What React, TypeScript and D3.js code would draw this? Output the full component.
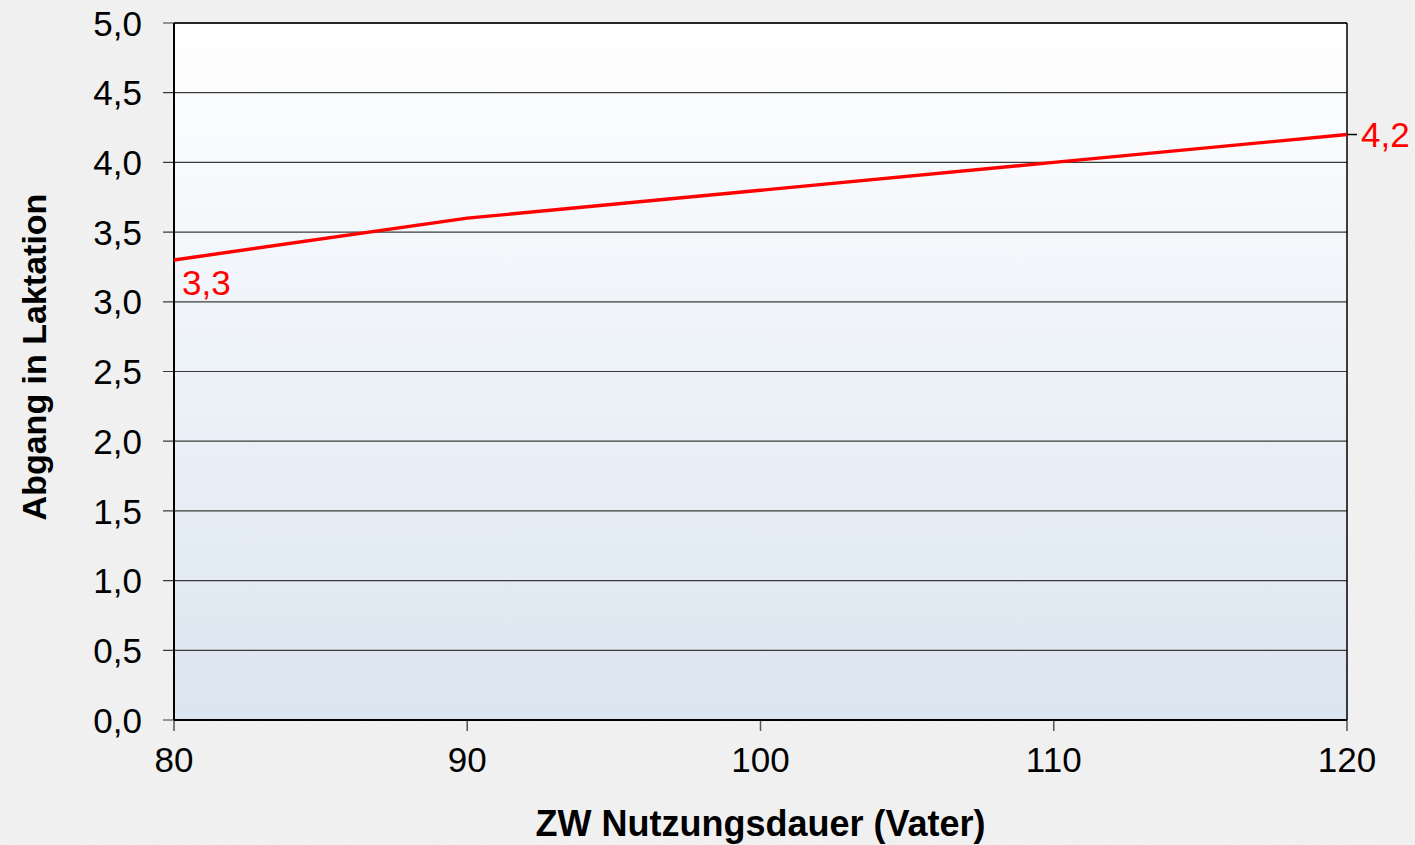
import React from 'react';
import * as d3 from 'd3';

const xValues = [80, 90, 100, 110, 120];
const abgang = [3.3, 3.6, 3.8, 4.0, 4.2];
const xTicks = [80, 90, 100, 110, 120];
const yTicks = [0, 0.5, 1, 1.5, 2, 2.5, 3, 3.5, 4, 4.5, 5];
const startLabel = '3,3';
const endLabel = '4,2';
const xTitle = 'ZW Nutzungsdauer (Vater)';
const yTitle = 'Abgang in Laktation';

const W = 1415;
const H = 845;
const m = { left: 174, right: 68, top: 23, bottom: 125 };
const font = '"Liberation Sans", Arial, sans-serif';
const fmt = (v: number) => v.toFixed(1).replace('.', ',');

export default function App() {
  const x = d3.scaleLinear().domain([80, 120]).range([m.left, W - m.right]);
  const y = d3.scaleLinear().domain([0, 5]).range([H - m.bottom, m.top]);

  const line = d3.line<number>()
    .x((_, i) => x(xValues[i]))
    .y((d) => y(d));

  const x0 = x(80), x1 = x(120), y0 = y(0), y1 = y(5);
  const last = abgang.length - 1;

  return (
    <svg width={W} height={H} style={{ position: 'fixed', top: 0, left: 0, display: 'block' }}>
      <defs>
        <linearGradient id="plotBg" x1="0" y1="0" x2="0" y2="1">
          <stop offset="0%" stopColor="#ffffff" />
          <stop offset="100%" stopColor="#dbe5f0" />
        </linearGradient>
        <filter id="grain" x="0" y="0" width="100%" height="100%">
          <feTurbulence type="fractalNoise" baseFrequency="0.9" numOctaves="2" seed="3" />
          <feColorMatrix type="matrix" values="0 0 0 0 0.6  0 0 0 0 0.6  0 0 0 0 0.6  0 0 0 0.14 0" />
        </filter>
      </defs>

      <rect x={0} y={0} width={W} height={H} fill="#f3f3f3" />
      <rect x={0} y={0} width={W} height={H} filter="url(#grain)" />

      <rect x={x0} y={y1} width={x1 - x0} height={y0 - y1} fill="url(#plotBg)" />

      {yTicks.map((t) => (
        <g key={t}>
          <line x1={x0 - 11} x2={x1} y1={y(t)} y2={y(t)} stroke="#3a3a3a" strokeWidth={1.2} />
          <text x={142} y={y(t)} dy="0.36em" textAnchor="end" fontFamily={font} fontSize={35} fill="#000">
            {fmt(t)}
          </text>
        </g>
      ))}

      {xTicks.map((t) => (
        <g key={t}>
          <line x1={x(t)} x2={x(t)} y1={y0} y2={y0 + 11} stroke="#555" strokeWidth={1.5} />
          <text x={x(t)} y={772} textAnchor="middle" fontFamily={font} fontSize={35} fill="#000">
            {t}
          </text>
        </g>
      ))}

      <line x1={x0} x2={x1} y1={y1} y2={y1} stroke="#000" strokeWidth={1.5} />
      <line x1={x1} x2={x1} y1={y1} y2={y0} stroke="#000" strokeWidth={1.5} />
      <line x1={x0} x2={x0} y1={y1} y2={y0} stroke="#000" strokeWidth={2} />
      <line x1={x0} x2={x1} y1={y0} y2={y0} stroke="#000" strokeWidth={2} />

      <path d={line(abgang) || ''} fill="none" stroke="#ff0000" strokeWidth={3.4} />

      <line x1={x1} x2={x1 + 10} y1={y(abgang[last])} y2={y(abgang[last])} stroke="#000" strokeWidth={1.5} />
      <text x={x(xValues[0]) + 8} y={y(abgang[0]) + 35} fontFamily={font} fontSize={35} fill="#ff0000">
        {startLabel}
      </text>
      <text x={x1 + 14} y={y(abgang[last])} dy="0.36em" fontFamily={font} fontSize={35} fill="#ff0000">
        {endLabel}
      </text>

      <text x={(x0 + x1) / 2} y={836} textAnchor="middle" fontFamily={font} fontSize={36} fontWeight="bold" fill="#000">
        {xTitle}
      </text>
      <text
        transform={`translate(46,357) rotate(-90)`}
        textAnchor="middle"
        fontFamily={font}
        fontSize={34}
        fontWeight="bold"
        fill="#000"
      >
        {yTitle}
      </text>
    </svg>
  );
}
